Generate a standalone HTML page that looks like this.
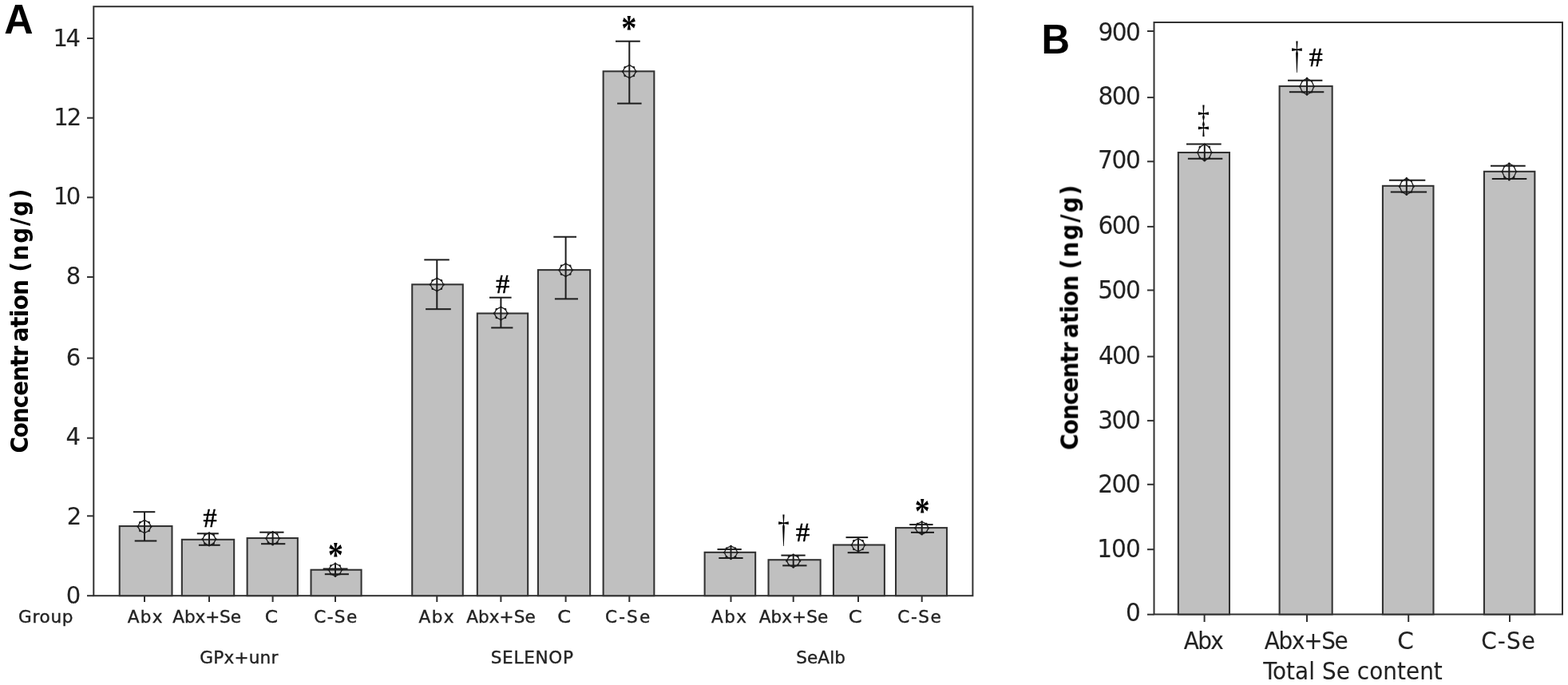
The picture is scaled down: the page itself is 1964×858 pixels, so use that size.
<!DOCTYPE html>
<html lang="en">
<head>
<meta charset="utf-8">
<title>Selenium concentration bar charts</title>
<style>
html,body{margin:0;padding:0;background:#fff;}
body{width:1964px;height:858px;overflow:hidden;}
svg{display:block;}
text{white-space:pre;}
</style>
</head>
<body>
<svg width="1964" height="858" viewBox="0 0 1964 858">
<defs><filter id="soft" x="0" y="0" width="1964" height="858" filterUnits="userSpaceOnUse"><feGaussianBlur stdDeviation="0.45"/></filter></defs>
<rect x="0" y="0" width="1964" height="858" fill="#ffffff"/>
<g filter="url(#soft)">
<g id="panel-a">
<rect x="117.3" y="8.2" width="1101.1" height="738" fill="#fff" stroke="#303030" stroke-width="2"/>
<line x1="109" y1="746.2" x2="117.3" y2="746.2" stroke="#303030" stroke-width="2"/>
<text transform="translate(82.84,755.52) scale(1.0600,1)" font-family="'DejaVu Sans Condensed','Liberation Sans',sans-serif" font-size="30.5" fill="#242424" stroke="#242424" stroke-width="0.1">0</text>
<line x1="109" y1="646.3" x2="117.3" y2="646.3" stroke="#303030" stroke-width="2"/>
<text transform="translate(83.77,656.51) scale(1.0600,1)" font-family="'DejaVu Sans Condensed','Liberation Sans',sans-serif" font-size="30.5" fill="#242424" stroke="#242424" stroke-width="0.1">2</text>
<line x1="109" y1="548.7" x2="117.3" y2="548.7" stroke="#303030" stroke-width="2"/>
<text transform="translate(82.57,557.33) scale(1.0600,1)" font-family="'DejaVu Sans Condensed','Liberation Sans',sans-serif" font-size="30.5" fill="#242424" stroke="#242424" stroke-width="0.1">4</text>
<line x1="109" y1="448.6" x2="117.3" y2="448.6" stroke="#303030" stroke-width="2"/>
<text transform="translate(82.71,457.93) scale(1.0600,1)" font-family="'DejaVu Sans Condensed','Liberation Sans',sans-serif" font-size="30.5" fill="#242424" stroke="#242424" stroke-width="0.1">6</text>
<line x1="109" y1="347" x2="117.3" y2="347" stroke="#303030" stroke-width="2"/>
<text transform="translate(82.84,355.82) scale(1.0600,1)" font-family="'DejaVu Sans Condensed','Liberation Sans',sans-serif" font-size="30.5" fill="#242424" stroke="#242424" stroke-width="0.1">8</text>
<line x1="109" y1="247.3" x2="117.3" y2="247.3" stroke="#303030" stroke-width="2"/>
<text transform="translate(67.02,255.93) scale(1.0600,1)" font-family="'DejaVu Sans Condensed','Liberation Sans',sans-serif" font-size="30.5" letter-spacing="-2.578" fill="#242424" stroke="#242424" stroke-width="0.1">10</text>
<line x1="109" y1="147.7" x2="117.3" y2="147.7" stroke="#303030" stroke-width="2"/>
<text transform="translate(67.22,156.51) scale(1.0600,1)" font-family="'DejaVu Sans Condensed','Liberation Sans',sans-serif" font-size="30.5" letter-spacing="-1.767" fill="#242424" stroke="#242424" stroke-width="0.1">12</text>
<line x1="109" y1="48" x2="117.3" y2="48" stroke="#303030" stroke-width="2"/>
<text transform="translate(66.62,58.42) scale(1.0600,1)" font-family="'DejaVu Sans Condensed','Liberation Sans',sans-serif" font-size="30.5" letter-spacing="-2.450" fill="#242424" stroke="#242424" stroke-width="0.1">14</text>
<rect x="149.72" y="659.02" width="65.75" height="87.18" fill="#c0c0c0" stroke="#303030" stroke-width="2.05"/>
<rect x="227.83" y="675.82" width="65.35" height="70.38" fill="#c0c0c0" stroke="#303030" stroke-width="2.05"/>
<rect x="309.62" y="674.02" width="63.25" height="72.18" fill="#c0c0c0" stroke="#303030" stroke-width="2.05"/>
<rect x="389.52" y="713.73" width="63.05" height="32.48" fill="#c0c0c0" stroke="#303030" stroke-width="2.05"/>
<rect x="516.23" y="356.32" width="63.55" height="389.88" fill="#c0c0c0" stroke="#303030" stroke-width="2.05"/>
<rect x="597.82" y="392.52" width="63.35" height="353.68" fill="#c0c0c0" stroke="#303030" stroke-width="2.05"/>
<rect x="673.92" y="338.12" width="65.25" height="408.08" fill="#c0c0c0" stroke="#303030" stroke-width="2.05"/>
<rect x="755.62" y="89.33" width="63.75" height="656.88" fill="#c0c0c0" stroke="#303030" stroke-width="2.05"/>
<rect x="882.62" y="691.82" width="63.55" height="54.38" fill="#c0c0c0" stroke="#303030" stroke-width="2.05"/>
<rect x="962.52" y="701.23" width="65.15" height="44.98" fill="#c0c0c0" stroke="#303030" stroke-width="2.05"/>
<rect x="1043.93" y="682.52" width="63.95" height="63.68" fill="#c0c0c0" stroke="#303030" stroke-width="2.05"/>
<rect x="1122.03" y="661.12" width="63.95" height="85.08" fill="#c0c0c0" stroke="#303030" stroke-width="2.05"/>
<g stroke="#1c1c1c" stroke-width="2.0" fill="none">
<line x1="181" y1="641.2" x2="181" y2="677.5"/>
<line x1="166.9" y1="641.2" x2="194.3" y2="641.2"/>
<line x1="168.7" y1="677.5" x2="196.3" y2="677.5"/>
<polygon points="189.3,659.6 186.56,664.89 181,667.5 175.44,664.89 172.7,659.6 175.44,654.31 181,651.7 186.56,654.31" stroke-width="1.3" stroke-linejoin="round"/>
</g>
<g fill="#1c1c1c"><circle cx="189.3" cy="659.6" r="1.3"/><circle cx="186.56" cy="664.89" r="1.3"/><circle cx="181" cy="667.5" r="1.3"/><circle cx="175.44" cy="664.89" r="1.3"/><circle cx="172.7" cy="659.6" r="1.3"/><circle cx="175.44" cy="654.31" r="1.3"/><circle cx="181" cy="651.7" r="1.3"/><circle cx="186.56" cy="654.31" r="1.3"/></g>
<line x1="181" y1="746.2" x2="181" y2="754" stroke="#303030" stroke-width="2"/>
<g stroke="#1c1c1c" stroke-width="2.0" fill="none">
<line x1="262" y1="667.5" x2="262" y2="683.3"/>
<line x1="246.8" y1="668.3" x2="273.8" y2="668.3"/>
<line x1="248.9" y1="682.8" x2="275.7" y2="682.8"/>
<polygon points="270.3,675.4 267.56,680.69 262,683.3 256.44,680.69 253.7,675.4 256.44,670.11 262,667.5 267.56,670.11" stroke-width="1.3" stroke-linejoin="round"/>
</g>
<g fill="#1c1c1c"><circle cx="270.3" cy="675.4" r="1.3"/><circle cx="267.56" cy="680.69" r="1.3"/><circle cx="262" cy="683.3" r="1.3"/><circle cx="256.44" cy="680.69" r="1.3"/><circle cx="253.7" cy="675.4" r="1.3"/><circle cx="256.44" cy="670.11" r="1.3"/><circle cx="262" cy="667.5" r="1.3"/><circle cx="267.56" cy="670.11" r="1.3"/></g>
<line x1="262" y1="746.2" x2="262" y2="754" stroke="#303030" stroke-width="2"/>
<g stroke="#1c1c1c" stroke-width="2.0" fill="none">
<line x1="341.6" y1="666.4" x2="341.6" y2="682.2"/>
<line x1="325.2" y1="666.7" x2="355.5" y2="666.7"/>
<line x1="327" y1="681.2" x2="357.3" y2="681.2"/>
<polygon points="349.9,674.3 347.16,679.59 341.6,682.2 336.04,679.59 333.3,674.3 336.04,669.01 341.6,666.4 347.16,669.01" stroke-width="1.3" stroke-linejoin="round"/>
</g>
<g fill="#1c1c1c"><circle cx="349.9" cy="674.3" r="1.3"/><circle cx="347.16" cy="679.59" r="1.3"/><circle cx="341.6" cy="682.2" r="1.3"/><circle cx="336.04" cy="679.59" r="1.3"/><circle cx="333.3" cy="674.3" r="1.3"/><circle cx="336.04" cy="669.01" r="1.3"/><circle cx="341.6" cy="666.4" r="1.3"/><circle cx="347.16" cy="669.01" r="1.3"/></g>
<line x1="341.6" y1="746.2" x2="341.6" y2="754" stroke="#303030" stroke-width="2"/>
<g stroke="#1c1c1c" stroke-width="2.0" fill="none">
<line x1="420" y1="705.9" x2="420" y2="721.7"/>
<line x1="404.7" y1="712.5" x2="435.5" y2="712.5"/>
<line x1="406.8" y1="719.2" x2="436.9" y2="719.2"/>
<polygon points="428.3,713.8 425.56,719.09 420,721.7 414.44,719.09 411.7,713.8 414.44,708.51 420,705.9 425.56,708.51" stroke-width="1.3" stroke-linejoin="round"/>
</g>
<g fill="#1c1c1c"><circle cx="428.3" cy="713.8" r="1.3"/><circle cx="425.56" cy="719.09" r="1.3"/><circle cx="420" cy="721.7" r="1.3"/><circle cx="414.44" cy="719.09" r="1.3"/><circle cx="411.7" cy="713.8" r="1.3"/><circle cx="414.44" cy="708.51" r="1.3"/><circle cx="420" cy="705.9" r="1.3"/><circle cx="425.56" cy="708.51" r="1.3"/></g>
<line x1="420" y1="746.2" x2="420" y2="754" stroke="#303030" stroke-width="2"/>
<g stroke="#1c1c1c" stroke-width="2.0" fill="none">
<line x1="547.3" y1="325.4" x2="547.3" y2="387.2"/>
<line x1="531.3" y1="325.4" x2="562.8" y2="325.4"/>
<line x1="533.1" y1="387.2" x2="564.8" y2="387.2"/>
<polygon points="555.6,356.5 552.86,361.79 547.3,364.4 541.74,361.79 539,356.5 541.74,351.21 547.3,348.6 552.86,351.21" stroke-width="1.3" stroke-linejoin="round"/>
</g>
<g fill="#1c1c1c"><circle cx="555.6" cy="356.5" r="1.3"/><circle cx="552.86" cy="361.79" r="1.3"/><circle cx="547.3" cy="364.4" r="1.3"/><circle cx="541.74" cy="361.79" r="1.3"/><circle cx="539" cy="356.5" r="1.3"/><circle cx="541.74" cy="351.21" r="1.3"/><circle cx="547.3" cy="348.6" r="1.3"/><circle cx="552.86" cy="351.21" r="1.3"/></g>
<line x1="547.3" y1="746.2" x2="547.3" y2="754" stroke="#303030" stroke-width="2"/>
<g stroke="#1c1c1c" stroke-width="2.0" fill="none">
<line x1="627.4" y1="372.7" x2="627.4" y2="410.5"/>
<line x1="613" y1="372.7" x2="640.6" y2="372.7"/>
<line x1="615.2" y1="410.5" x2="642.4" y2="410.5"/>
<polygon points="635.7,392.6 632.96,397.89 627.4,400.5 621.84,397.89 619.1,392.6 621.84,387.31 627.4,384.7 632.96,387.31" stroke-width="1.3" stroke-linejoin="round"/>
</g>
<g fill="#1c1c1c"><circle cx="635.7" cy="392.6" r="1.3"/><circle cx="632.96" cy="397.89" r="1.3"/><circle cx="627.4" cy="400.5" r="1.3"/><circle cx="621.84" cy="397.89" r="1.3"/><circle cx="619.1" cy="392.6" r="1.3"/><circle cx="621.84" cy="387.31" r="1.3"/><circle cx="627.4" cy="384.7" r="1.3"/><circle cx="632.96" cy="387.31" r="1.3"/></g>
<line x1="627.4" y1="746.2" x2="627.4" y2="754" stroke="#303030" stroke-width="2"/>
<g stroke="#1c1c1c" stroke-width="2.0" fill="none">
<line x1="708.6" y1="296.7" x2="708.6" y2="374.4"/>
<line x1="693.3" y1="296.7" x2="722" y2="296.7"/>
<line x1="694.9" y1="374.4" x2="724" y2="374.4"/>
<polygon points="716.9,338.2 714.16,343.49 708.6,346.1 703.04,343.49 700.3,338.2 703.04,332.91 708.6,330.3 714.16,332.91" stroke-width="1.3" stroke-linejoin="round"/>
</g>
<g fill="#1c1c1c"><circle cx="716.9" cy="338.2" r="1.3"/><circle cx="714.16" cy="343.49" r="1.3"/><circle cx="708.6" cy="346.1" r="1.3"/><circle cx="703.04" cy="343.49" r="1.3"/><circle cx="700.3" cy="338.2" r="1.3"/><circle cx="703.04" cy="332.91" r="1.3"/><circle cx="708.6" cy="330.3" r="1.3"/><circle cx="714.16" cy="332.91" r="1.3"/></g>
<line x1="708.6" y1="746.2" x2="708.6" y2="754" stroke="#303030" stroke-width="2"/>
<g stroke="#1c1c1c" stroke-width="2.0" fill="none">
<line x1="788.3" y1="51.7" x2="788.3" y2="129.6"/>
<line x1="771" y1="51.7" x2="801.8" y2="51.7"/>
<line x1="773.1" y1="129.6" x2="803.6" y2="129.6"/>
<polygon points="796.6,89.6 793.86,94.89 788.3,97.5 782.74,94.89 780,89.6 782.74,84.31 788.3,81.7 793.86,84.31" stroke-width="1.3" stroke-linejoin="round"/>
</g>
<g fill="#1c1c1c"><circle cx="796.6" cy="89.6" r="1.3"/><circle cx="793.86" cy="94.89" r="1.3"/><circle cx="788.3" cy="97.5" r="1.3"/><circle cx="782.74" cy="94.89" r="1.3"/><circle cx="780" cy="89.6" r="1.3"/><circle cx="782.74" cy="84.31" r="1.3"/><circle cx="788.3" cy="81.7" r="1.3"/><circle cx="793.86" cy="84.31" r="1.3"/></g>
<line x1="788.3" y1="746.2" x2="788.3" y2="754" stroke="#303030" stroke-width="2"/>
<g stroke="#1c1c1c" stroke-width="2.0" fill="none">
<line x1="915.5" y1="684.1" x2="915.5" y2="699.9"/>
<line x1="898.5" y1="688.1" x2="928.8" y2="688.1"/>
<line x1="900.3" y1="699" x2="930.6" y2="699"/>
<polygon points="923.8,692 921.06,697.29 915.5,699.9 909.94,697.29 907.2,692 909.94,686.71 915.5,684.1 921.06,686.71" stroke-width="1.3" stroke-linejoin="round"/>
</g>
<g fill="#1c1c1c"><circle cx="923.8" cy="692" r="1.3"/><circle cx="921.06" cy="697.29" r="1.3"/><circle cx="915.5" cy="699.9" r="1.3"/><circle cx="909.94" cy="697.29" r="1.3"/><circle cx="907.2" cy="692" r="1.3"/><circle cx="909.94" cy="686.71" r="1.3"/><circle cx="915.5" cy="684.1" r="1.3"/><circle cx="921.06" cy="686.71" r="1.3"/></g>
<line x1="915.5" y1="746.2" x2="915.5" y2="754" stroke="#303030" stroke-width="2"/>
<g stroke="#1c1c1c" stroke-width="2.0" fill="none">
<line x1="993.7" y1="694.7" x2="993.7" y2="710.5"/>
<line x1="978.4" y1="695.6" x2="1008.7" y2="695.6"/>
<line x1="980.2" y1="708.4" x2="1010.5" y2="708.4"/>
<polygon points="1002,702.6 999.26,707.89 993.7,710.5 988.14,707.89 985.4,702.6 988.14,697.31 993.7,694.7 999.26,697.31" stroke-width="1.3" stroke-linejoin="round"/>
</g>
<g fill="#1c1c1c"><circle cx="1002" cy="702.6" r="1.3"/><circle cx="999.26" cy="707.89" r="1.3"/><circle cx="993.7" cy="710.5" r="1.3"/><circle cx="988.14" cy="707.89" r="1.3"/><circle cx="985.4" cy="702.6" r="1.3"/><circle cx="988.14" cy="697.31" r="1.3"/><circle cx="993.7" cy="694.7" r="1.3"/><circle cx="999.26" cy="697.31" r="1.3"/></g>
<line x1="993.7" y1="746.2" x2="993.7" y2="754" stroke="#303030" stroke-width="2"/>
<g stroke="#1c1c1c" stroke-width="2.0" fill="none">
<line x1="1075" y1="673.1" x2="1075" y2="692.2"/>
<line x1="1059.5" y1="673.1" x2="1087.2" y2="673.1"/>
<line x1="1061.7" y1="692.2" x2="1088.4" y2="692.2"/>
<polygon points="1083.3,682.7 1080.56,687.99 1075,690.6 1069.44,687.99 1066.7,682.7 1069.44,677.41 1075,674.8 1080.56,677.41" stroke-width="1.3" stroke-linejoin="round"/>
</g>
<g fill="#1c1c1c"><circle cx="1083.3" cy="682.7" r="1.3"/><circle cx="1080.56" cy="687.99" r="1.3"/><circle cx="1075" cy="690.6" r="1.3"/><circle cx="1069.44" cy="687.99" r="1.3"/><circle cx="1066.7" cy="682.7" r="1.3"/><circle cx="1069.44" cy="677.41" r="1.3"/><circle cx="1075" cy="674.8" r="1.3"/><circle cx="1080.56" cy="677.41" r="1.3"/></g>
<line x1="1075" y1="746.2" x2="1075" y2="754" stroke="#303030" stroke-width="2"/>
<g stroke="#1c1c1c" stroke-width="2.0" fill="none">
<line x1="1154.7" y1="653.5" x2="1154.7" y2="669.3"/>
<line x1="1139.2" y1="657.1" x2="1168.6" y2="657.1"/>
<line x1="1141" y1="666.9" x2="1170" y2="666.9"/>
<polygon points="1163,661.4 1160.26,666.69 1154.7,669.3 1149.14,666.69 1146.4,661.4 1149.14,656.11 1154.7,653.5 1160.26,656.11" stroke-width="1.3" stroke-linejoin="round"/>
</g>
<g fill="#1c1c1c"><circle cx="1163" cy="661.4" r="1.3"/><circle cx="1160.26" cy="666.69" r="1.3"/><circle cx="1154.7" cy="669.3" r="1.3"/><circle cx="1149.14" cy="666.69" r="1.3"/><circle cx="1146.4" cy="661.4" r="1.3"/><circle cx="1149.14" cy="656.11" r="1.3"/><circle cx="1154.7" cy="653.5" r="1.3"/><circle cx="1160.26" cy="656.11" r="1.3"/></g>
<line x1="1154.7" y1="746.2" x2="1154.7" y2="754" stroke="#303030" stroke-width="2"/>
<text transform="translate(159.76,780.3) scale(1.0900,1.0000)" font-family="'DejaVu Sans Condensed','Liberation Sans',sans-serif" font-size="22" letter-spacing="1.225" fill="#242424" stroke="#1e1e1e" stroke-width="0.35">Abx</text>
<text transform="translate(216.26,780.3) scale(1.0900,1.0000)" font-family="'DejaVu Sans Condensed','Liberation Sans',sans-serif" font-size="22" letter-spacing="-0.095" fill="#242424" stroke="#1e1e1e" stroke-width="0.35">Abx+Se</text>
<text transform="translate(331.67,780.3) scale(1.1785,1.0000)" font-family="'DejaVu Sans Condensed','Liberation Sans',sans-serif" font-size="22" fill="#242424" stroke="#1e1e1e" stroke-width="0.35">C</text>
<text transform="translate(393.37,780.3) scale(1.0900,1.0000)" font-family="'DejaVu Sans Condensed','Liberation Sans',sans-serif" font-size="22" letter-spacing="1.219" fill="#242424" stroke="#1e1e1e" stroke-width="0.35">C-Se</text>
<text transform="translate(524.46,780.3) scale(1.0900,1.0000)" font-family="'DejaVu Sans Condensed','Liberation Sans',sans-serif" font-size="22" letter-spacing="1.317" fill="#242424" stroke="#1e1e1e" stroke-width="0.35">Abx</text>
<text transform="translate(584.26,780.3) scale(1.0900,1.0000)" font-family="'DejaVu Sans Condensed','Liberation Sans',sans-serif" font-size="22" letter-spacing="0.051" fill="#242424" stroke="#1e1e1e" stroke-width="0.35">Abx+Se</text>
<text transform="translate(698.13,780.3) scale(1.2215,1.0000)" font-family="'DejaVu Sans Condensed','Liberation Sans',sans-serif" font-size="22" fill="#242424" stroke="#1e1e1e" stroke-width="0.35">C</text>
<text transform="translate(758.07,780.3) scale(1.0900,1.0000)" font-family="'DejaVu Sans Condensed','Liberation Sans',sans-serif" font-size="22" letter-spacing="1.922" fill="#242424" stroke="#1e1e1e" stroke-width="0.35">C-Se</text>
<text transform="translate(890.96,780.3) scale(1.0900,1.0000)" font-family="'DejaVu Sans Condensed','Liberation Sans',sans-serif" font-size="22" letter-spacing="1.317" fill="#242424" stroke="#1e1e1e" stroke-width="0.35">Abx</text>
<text transform="translate(950.76,780.3) scale(1.0900,1.0000)" font-family="'DejaVu Sans Condensed','Liberation Sans',sans-serif" font-size="22" letter-spacing="0.051" fill="#242424" stroke="#1e1e1e" stroke-width="0.35">Abx+Se</text>
<text transform="translate(1062.83,780.3) scale(1.2215,1.0000)" font-family="'DejaVu Sans Condensed','Liberation Sans',sans-serif" font-size="22" fill="#242424" stroke="#1e1e1e" stroke-width="0.35">C</text>
<text transform="translate(1124.27,780.3) scale(1.0900,1.0000)" font-family="'DejaVu Sans Condensed','Liberation Sans',sans-serif" font-size="22" letter-spacing="1.463" fill="#242424" stroke="#1e1e1e" stroke-width="0.35">C-Se</text>
<text transform="translate(22.97,780.3) scale(1.0900,1.0000)" font-family="'DejaVu Sans Condensed','Liberation Sans',sans-serif" font-size="22" letter-spacing="0.683" fill="#242424" stroke="#1e1e1e" stroke-width="0.35">Group</text>
<text transform="translate(250.27,831) scale(1.0900,1.0000)" font-family="'DejaVu Sans Condensed','Liberation Sans',sans-serif" font-size="22" letter-spacing="0.197" fill="#242424" stroke="#1e1e1e" stroke-width="0.35">GPx+unr</text>
<text transform="translate(614.7,831) scale(1.0900,1.0000)" font-family="'DejaVu Sans Condensed','Liberation Sans',sans-serif" font-size="22" letter-spacing="0.646" fill="#242424" stroke="#1e1e1e" stroke-width="0.35">SELENOP</text>
<text transform="translate(997.2,831) scale(1.0900,1.0000)" font-family="'DejaVu Sans Condensed','Liberation Sans',sans-serif" font-size="22" letter-spacing="0.086" fill="#242424" stroke="#1e1e1e" stroke-width="0.35">SeAlb</text>
<text transform="translate(34.6,566.2) rotate(-90) scale(1.0300,1)" font-family="'DejaVu Sans Condensed','Liberation Sans',sans-serif" font-size="30" font-weight="bold" fill="#000"><tspan x="-1.38" letter-spacing="-0.936">Concentr</tspan><tspan x="134.02" letter-spacing="-0.515">ation </tspan><tspan x="218.89" letter-spacing="1.751">(ng/g)</tspan></text>
<text transform="translate(5.34,42) scale(1.0060,1.0356)" font-family="'Liberation Sans',sans-serif" font-size="50" font-weight="bold" fill="#000">A</text>
<text transform="translate(254.39,659.6) scale(0.9785,0.9749)" font-family="'Liberation Serif',serif" font-size="35" fill="#000" stroke="#000" stroke-width="0.6">#</text>
<text transform="translate(621.19,367.2) scale(0.9723,0.9661)" font-family="'Liberation Serif',serif" font-size="35" fill="#000" stroke="#000" stroke-width="0.6">#</text>
<text transform="translate(997.08,677.6) scale(0.9846,0.9880)" font-family="'Liberation Serif',serif" font-size="35" fill="#000" stroke="#000" stroke-width="0.6">#</text>
<text transform="translate(410.76,711.19) scale(1.0966,1.3358)" font-family="'Liberation Serif',serif" font-size="35" font-weight="bold" fill="#000">*</text>
<text transform="translate(778.26,50.99) scale(1.0966,1.3358)" font-family="'Liberation Serif',serif" font-size="35" font-weight="bold" fill="#000">*</text>
<text transform="translate(1145.78,655.64) scale(1.0828,1.3208)" font-family="'Liberation Serif',serif" font-size="35" font-weight="bold" fill="#000">*</text>
<text transform="translate(974.2,677.63) scale(0.7200,1.2154)" font-family="'Liberation Serif',serif" font-size="40" fill="#000">†</text>
</g>
<g id="panel-b">
<rect x="1445.5" y="28.0" width="511.5" height="741.5" fill="#fff" stroke="#303030" stroke-width="2"/>
<line x1="1437" y1="769.7" x2="1445.5" y2="769.7" stroke="#303030" stroke-width="2"/>
<text transform="translate(1409.93,778.42) scale(1.0300,1)" font-family="'DejaVu Sans Condensed','Liberation Sans',sans-serif" font-size="32" fill="#242424" stroke="#242424" stroke-width="0.1">0</text>
<line x1="1437" y1="688.2" x2="1445.5" y2="688.2" stroke="#303030" stroke-width="2"/>
<text transform="translate(1374.28,698.33) scale(1.0300,1)" font-family="'DejaVu Sans Condensed','Liberation Sans',sans-serif" font-size="32" letter-spacing="-1.005" fill="#242424" stroke="#242424" stroke-width="0.1">100</text>
<line x1="1437" y1="606.8" x2="1445.5" y2="606.8" stroke="#303030" stroke-width="2"/>
<text transform="translate(1375.31,616.52) scale(1.0300,1)" font-family="'DejaVu Sans Condensed','Liberation Sans',sans-serif" font-size="32" letter-spacing="-1.505" fill="#242424" stroke="#242424" stroke-width="0.1">200</text>
<line x1="1437" y1="526.9" x2="1445.5" y2="526.9" stroke="#303030" stroke-width="2"/>
<text transform="translate(1375.18,536.62) scale(1.0300,1)" font-family="'DejaVu Sans Condensed','Liberation Sans',sans-serif" font-size="32" letter-spacing="-1.443" fill="#242424" stroke="#242424" stroke-width="0.1">300</text>
<line x1="1437" y1="446.6" x2="1445.5" y2="446.6" stroke="#303030" stroke-width="2"/>
<text transform="translate(1376.08,456.23) scale(1.0300,1)" font-family="'DejaVu Sans Condensed','Liberation Sans',sans-serif" font-size="32" letter-spacing="-1.880" fill="#242424" stroke="#242424" stroke-width="0.1">400</text>
<line x1="1437" y1="363.5" x2="1445.5" y2="363.5" stroke="#303030" stroke-width="2"/>
<text transform="translate(1375.18,374.12) scale(1.0300,1)" font-family="'DejaVu Sans Condensed','Liberation Sans',sans-serif" font-size="32" letter-spacing="-1.443" fill="#242424" stroke="#242424" stroke-width="0.1">500</text>
<line x1="1437" y1="283.9" x2="1445.5" y2="283.9" stroke="#303030" stroke-width="2"/>
<text transform="translate(1375.44,292.62) scale(1.0300,1)" font-family="'DejaVu Sans Condensed','Liberation Sans',sans-serif" font-size="32" letter-spacing="-1.568" fill="#242424" stroke="#242424" stroke-width="0.1">600</text>
<line x1="1437" y1="202.3" x2="1445.5" y2="202.3" stroke="#303030" stroke-width="2"/>
<text transform="translate(1375.05,211.03) scale(1.0300,1)" font-family="'DejaVu Sans Condensed','Liberation Sans',sans-serif" font-size="32" letter-spacing="-1.380" fill="#242424" stroke="#242424" stroke-width="0.1">700</text>
<line x1="1437" y1="122.1" x2="1445.5" y2="122.1" stroke="#303030" stroke-width="2"/>
<text transform="translate(1375.44,130.82) scale(1.0300,1)" font-family="'DejaVu Sans Condensed','Liberation Sans',sans-serif" font-size="32" letter-spacing="-1.568" fill="#242424" stroke="#242424" stroke-width="0.1">800</text>
<line x1="1437" y1="39" x2="1445.5" y2="39" stroke="#303030" stroke-width="2"/>
<text transform="translate(1375.57,50.52) scale(1.0300,1)" font-family="'DejaVu Sans Condensed','Liberation Sans',sans-serif" font-size="32" letter-spacing="-1.630" fill="#242424" stroke="#242424" stroke-width="0.1">900</text>
<rect x="1475.83" y="191.03" width="64.15" height="578.48" fill="#c0c0c0" stroke="#303030" stroke-width="2.05"/>
<rect x="1602.62" y="107.93" width="66.05" height="661.58" fill="#c0c0c0" stroke="#303030" stroke-width="2.05"/>
<rect x="1731.93" y="232.83" width="63.55" height="536.68" fill="#c0c0c0" stroke="#303030" stroke-width="2.05"/>
<rect x="1858.93" y="214.83" width="63.45" height="554.68" fill="#c0c0c0" stroke="#303030" stroke-width="2.05"/>
<g stroke="#1c1c1c" stroke-width="2.0" fill="none">
<line x1="1508.8" y1="180.5" x2="1508.8" y2="201.2"/>
<line x1="1486" y1="180.5" x2="1529.7" y2="180.5"/>
<line x1="1487.9" y1="198.7" x2="1531.3" y2="198.7"/>
<polygon points="1517.6,191 1514.7,197.83 1508.8,201.2 1502.9,197.83 1500,191 1502.9,184.17 1508.8,180.8 1514.7,184.17" stroke-width="1.3" stroke-linejoin="round"/>
</g>
<g fill="#1c1c1c"><circle cx="1517.6" cy="191" r="1.3"/><circle cx="1514.7" cy="197.83" r="1.3"/><circle cx="1508.8" cy="201.2" r="1.3"/><circle cx="1502.9" cy="197.83" r="1.3"/><circle cx="1500" cy="191" r="1.3"/><circle cx="1502.9" cy="184.17" r="1.3"/><circle cx="1508.8" cy="180.8" r="1.3"/><circle cx="1514.7" cy="184.17" r="1.3"/></g>
<g stroke="#1c1c1c" stroke-width="2.0" fill="none">
<line x1="1637" y1="98.1" x2="1637" y2="118.5"/>
<line x1="1613" y1="100.7" x2="1656.4" y2="100.7"/>
<line x1="1614.9" y1="115.2" x2="1658.3" y2="115.2"/>
<polygon points="1645.8,108.3 1642.9,115.13 1637,118.5 1631.1,115.13 1628.2,108.3 1631.1,101.47 1637,98.1 1642.9,101.47" stroke-width="1.3" stroke-linejoin="round"/>
</g>
<g fill="#1c1c1c"><circle cx="1645.8" cy="108.3" r="1.3"/><circle cx="1642.9" cy="115.13" r="1.3"/><circle cx="1637" cy="118.5" r="1.3"/><circle cx="1631.1" cy="115.13" r="1.3"/><circle cx="1628.2" cy="108.3" r="1.3"/><circle cx="1631.1" cy="101.47" r="1.3"/><circle cx="1637" cy="98.1" r="1.3"/><circle cx="1642.9" cy="101.47" r="1.3"/></g>
<g stroke="#1c1c1c" stroke-width="2.0" fill="none">
<line x1="1761.8" y1="223.4" x2="1761.8" y2="243.8"/>
<line x1="1739.9" y1="225.75" x2="1785.3" y2="225.75"/>
<line x1="1741.8" y1="240.4" x2="1787.1" y2="240.4"/>
<polygon points="1770.6,233.6 1767.7,240.43 1761.8,243.8 1755.9,240.43 1753,233.6 1755.9,226.77 1761.8,223.4 1767.7,226.77" stroke-width="1.3" stroke-linejoin="round"/>
</g>
<g fill="#1c1c1c"><circle cx="1770.6" cy="233.6" r="1.3"/><circle cx="1767.7" cy="240.43" r="1.3"/><circle cx="1761.8" cy="243.8" r="1.3"/><circle cx="1755.9" cy="240.43" r="1.3"/><circle cx="1753" cy="233.6" r="1.3"/><circle cx="1755.9" cy="226.77" r="1.3"/><circle cx="1761.8" cy="223.4" r="1.3"/><circle cx="1767.7" cy="226.77" r="1.3"/></g>
<g stroke="#1c1c1c" stroke-width="2.0" fill="none">
<line x1="1890.3" y1="204.8" x2="1890.3" y2="225.2"/>
<line x1="1867" y1="207.75" x2="1910.7" y2="207.75"/>
<line x1="1868.8" y1="224.1" x2="1912.3" y2="224.1"/>
<polygon points="1899.1,215 1896.2,221.83 1890.3,225.2 1884.4,221.83 1881.5,215 1884.4,208.17 1890.3,204.8 1896.2,208.17" stroke-width="1.3" stroke-linejoin="round"/>
</g>
<g fill="#1c1c1c"><circle cx="1899.1" cy="215" r="1.3"/><circle cx="1896.2" cy="221.83" r="1.3"/><circle cx="1890.3" cy="225.2" r="1.3"/><circle cx="1884.4" cy="221.83" r="1.3"/><circle cx="1881.5" cy="215" r="1.3"/><circle cx="1884.4" cy="208.17" r="1.3"/><circle cx="1890.3" cy="204.8" r="1.3"/><circle cx="1896.2" cy="208.17" r="1.3"/></g>
<line x1="1508.6" y1="769.5" x2="1508.6" y2="779" stroke="#303030" stroke-width="2"/>
<line x1="1637" y1="769.5" x2="1637" y2="779" stroke="#303030" stroke-width="2"/>
<line x1="1764.2" y1="769.5" x2="1764.2" y2="779" stroke="#303030" stroke-width="2"/>
<line x1="1891" y1="769.5" x2="1891" y2="779" stroke="#303030" stroke-width="2"/>
<text transform="translate(1482.65,812.8)" font-family="'DejaVu Sans Condensed','Liberation Sans',sans-serif" font-size="31" letter-spacing="-1.562" fill="#242424" stroke="#1e1e1e" stroke-width="0.1">Abx</text>
<text transform="translate(1583.85,812.8)" font-family="'DejaVu Sans Condensed','Liberation Sans',sans-serif" font-size="31" letter-spacing="-1.330" fill="#242424" stroke="#1e1e1e" stroke-width="0.1">Abx+Se</text>
<text transform="translate(1750.28,812.8) scale(1.0565,1.0000)" font-family="'DejaVu Sans Condensed','Liberation Sans',sans-serif" font-size="31" fill="#242424" stroke="#1e1e1e" stroke-width="0.1">C</text>
<text transform="translate(1855.17,812.8)" font-family="'DejaVu Sans Condensed','Liberation Sans',sans-serif" font-size="31" letter-spacing="1.117" fill="#242424" stroke="#1e1e1e" stroke-width="0.1">C-Se</text>
<text transform="translate(1582.2,850.6)" font-family="'DejaVu Sans Condensed','Liberation Sans',sans-serif" font-size="31" letter-spacing="0.043" fill="#242424" stroke="#1e1e1e" stroke-width="0.1">Total Se content</text>
<text transform="translate(1350.2,562.4) rotate(-90) scale(1.0300,1)" font-family="'DejaVu Sans Condensed','Liberation Sans',sans-serif" font-size="30" font-weight="bold" fill="#000"><tspan x="-1.38" letter-spacing="-0.839">Concentr</tspan><tspan x="134.8" letter-spacing="-0.345">ation </tspan><tspan x="218.6" letter-spacing="2.023">(ng/g)</tspan></text>
<text transform="translate(1304.48,66.9) scale(0.9836,1.0385)" font-family="'Liberation Sans',sans-serif" font-size="50" font-weight="bold" fill="#000">B</text>
<text transform="translate(1500.07,164.82) scale(0.7429,1.2369)" font-family="'Liberation Serif',serif" font-size="40" fill="#000">‡</text>
<text transform="translate(1617.3,85.22) scale(0.7200,1.2369)" font-family="'Liberation Serif',serif" font-size="40" fill="#000">†</text>
<text transform="translate(1639.7,83.1) scale(0.9662,0.9880)" font-family="'Liberation Serif',serif" font-size="35" fill="#000" stroke="#000" stroke-width="0.6">#</text>
</g>
</g>
</svg>
</body>
</html>
